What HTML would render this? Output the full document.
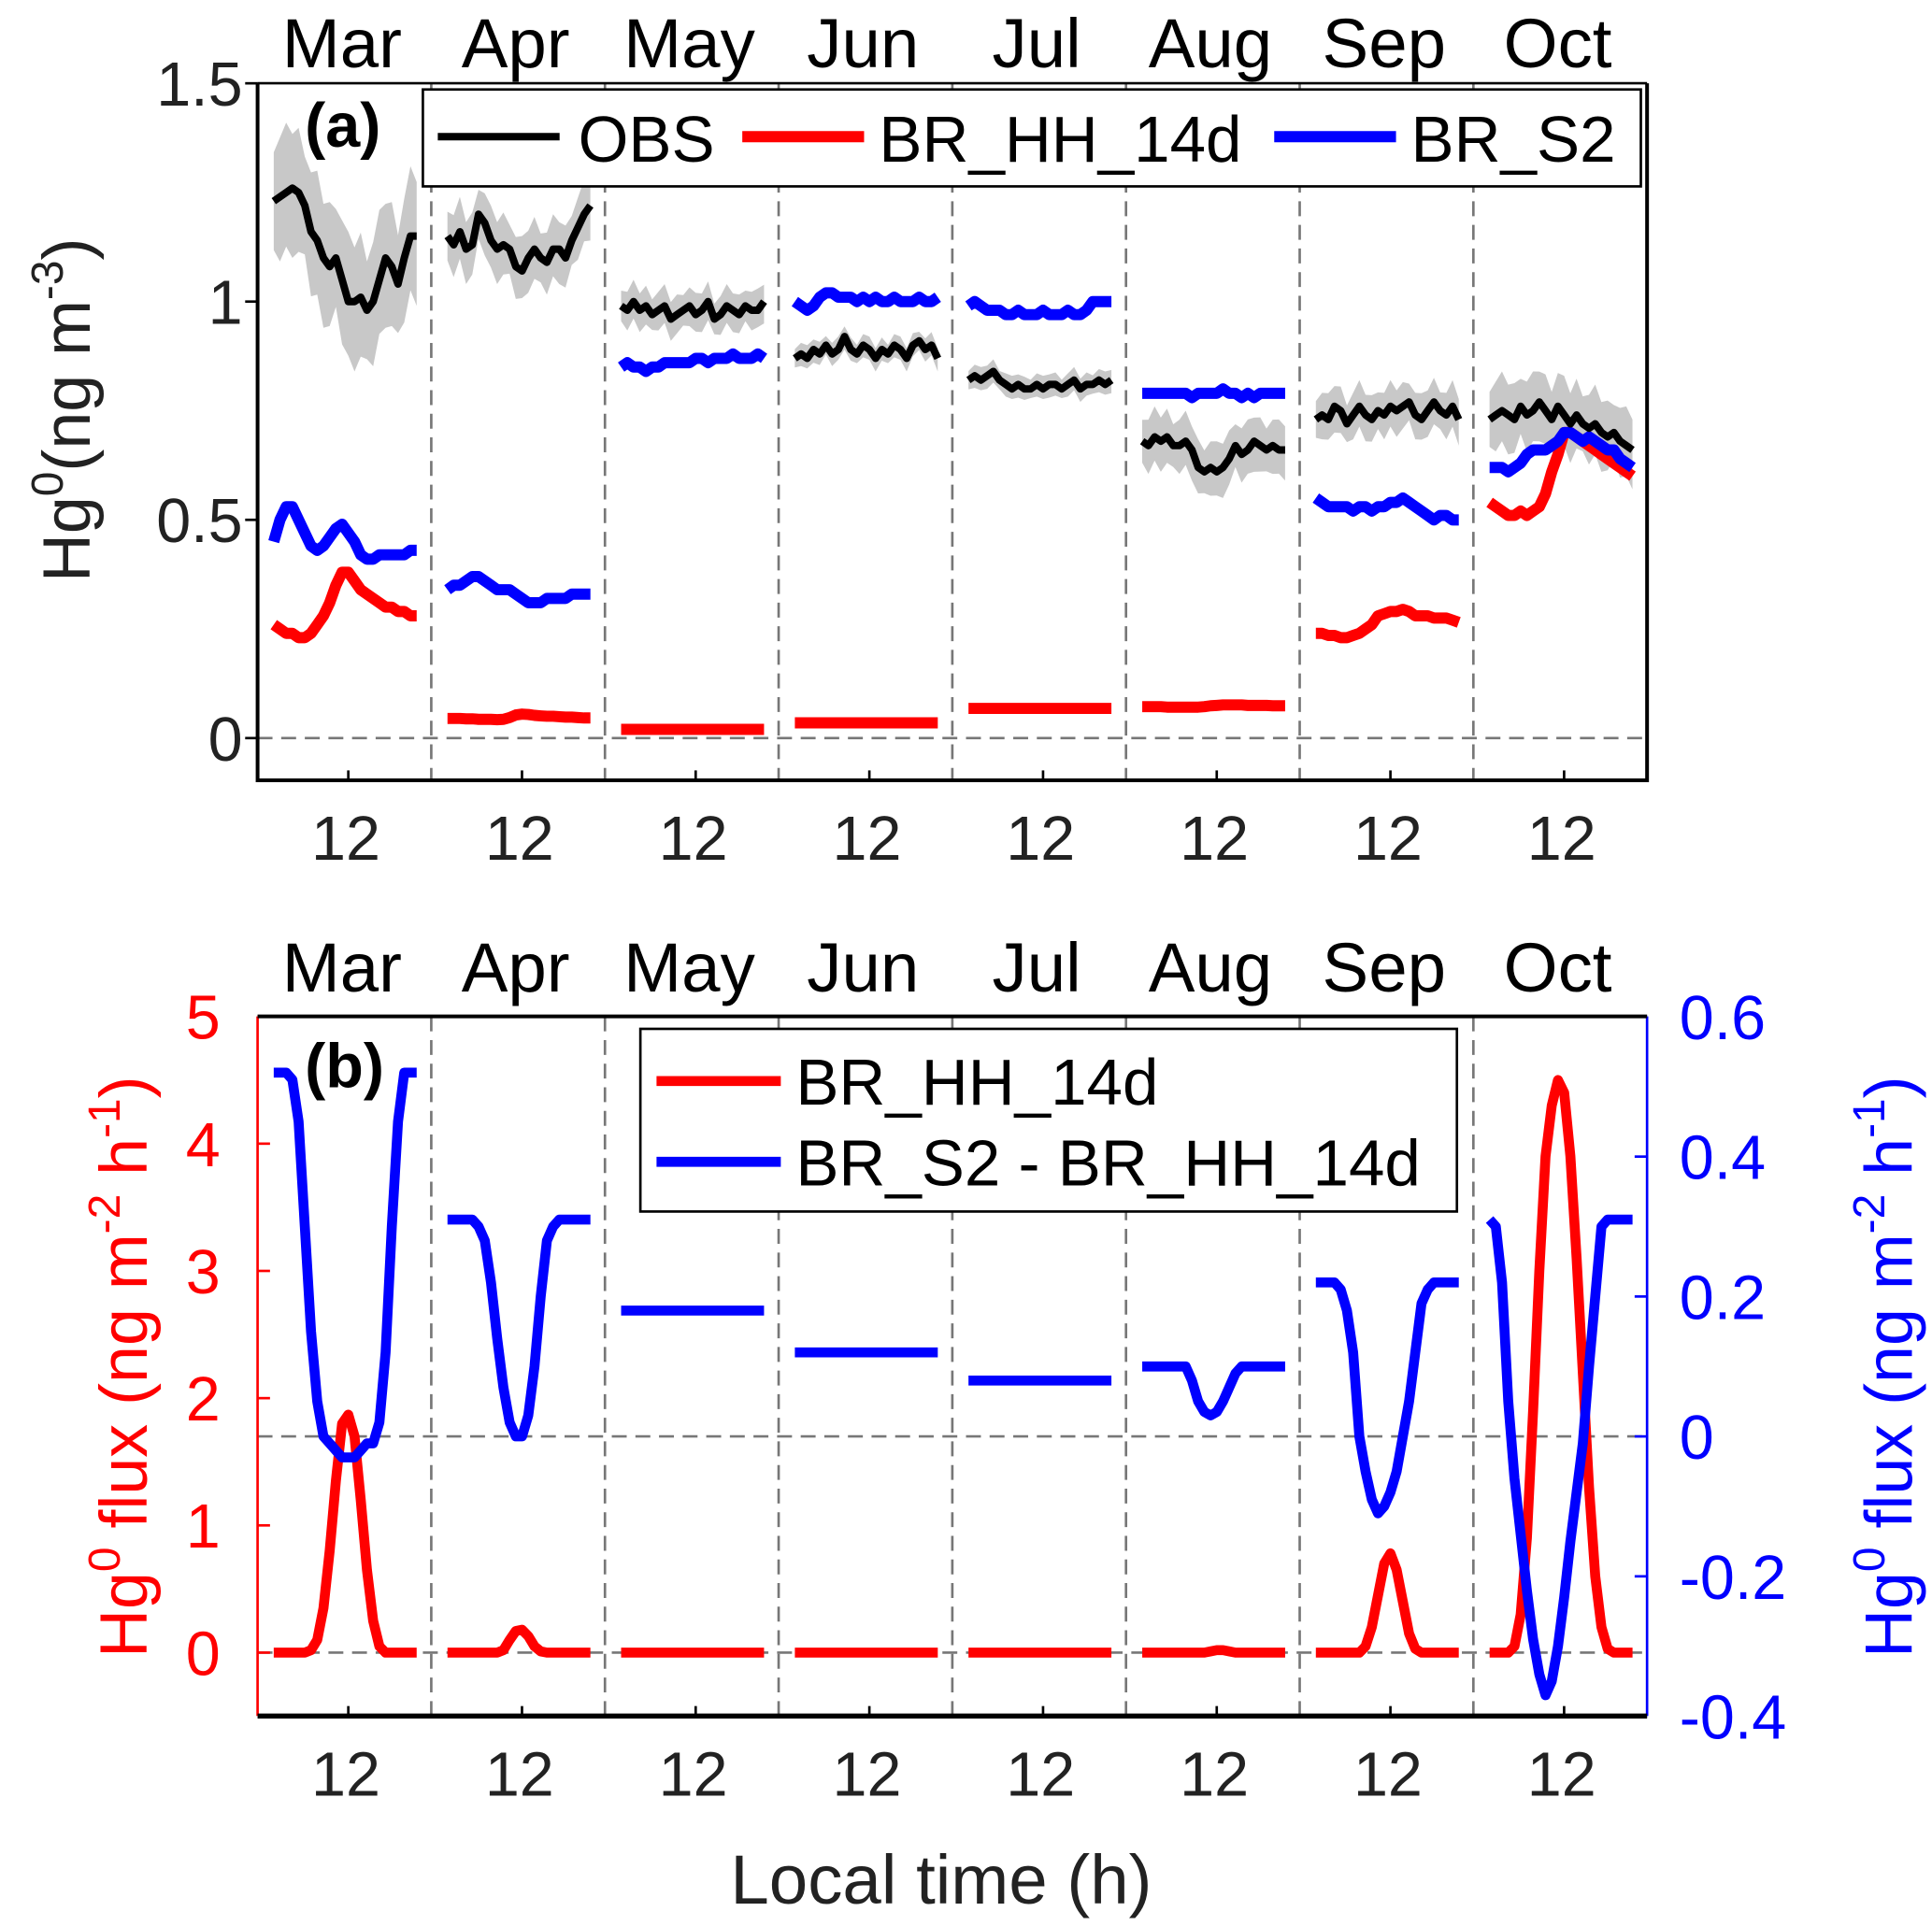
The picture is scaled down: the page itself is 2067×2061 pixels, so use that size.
<!DOCTYPE html>
<html><head><meta charset="utf-8"><style>
html,body{margin:0;padding:0;background:#fff}
svg{display:block;font-family:"Liberation Sans",Arial,sans-serif}
</style></head><body>
<svg id="chart" width="2067" height="2061" viewBox="0 0 1554 1550" xmlns="http://www.w3.org/2000/svg">
<g id="a"></g>
<g id="b"></g>
</svg>
<script>
const months=["Mar","Apr","May","Jun","Jul","Aug","Sep","Oct"];
const aTicks=[0,0.5,1,1.5];
const bLeftTicks=[0,1,2,3,4,5];
const bRightTicks=[-0.4,-0.2,0,0.2,0.4,0.6];
const obs=[
[1.23,1.24,1.25,1.26,1.25,1.22,1.16,1.14,1.1,1.08,1.1,1.05,1.0,1.0,1.01,0.98,1.0,1.05,1.1,1.08,1.04,1.1,1.15,1.15],
[1.15,1.13,1.16,1.12,1.13,1.2,1.18,1.14,1.12,1.13,1.12,1.08,1.07,1.1,1.12,1.1,1.09,1.12,1.12,1.1,1.14,1.17,1.2,1.22],
[0.99,0.98,1.0,0.98,0.99,0.97,0.98,0.99,0.96,0.97,0.98,0.99,0.97,0.98,1.0,0.96,0.97,0.99,0.98,0.97,0.99,0.98,0.98,1.0],
[0.87,0.88,0.87,0.89,0.88,0.9,0.88,0.89,0.92,0.89,0.88,0.9,0.89,0.87,0.89,0.88,0.9,0.89,0.87,0.9,0.91,0.89,0.9,0.87],
[0.82,0.83,0.82,0.83,0.84,0.82,0.81,0.8,0.81,0.8,0.8,0.81,0.8,0.81,0.81,0.8,0.81,0.82,0.8,0.81,0.81,0.82,0.81,0.82],
[0.68,0.67,0.69,0.68,0.69,0.67,0.67,0.68,0.66,0.62,0.61,0.62,0.61,0.62,0.64,0.67,0.65,0.66,0.68,0.67,0.66,0.67,0.66,0.66],
[0.73,0.74,0.73,0.76,0.75,0.72,0.74,0.76,0.74,0.73,0.75,0.74,0.76,0.75,0.76,0.77,0.74,0.73,0.75,0.77,0.75,0.74,0.76,0.73],
[0.73,0.74,0.75,0.74,0.73,0.76,0.74,0.75,0.77,0.75,0.73,0.76,0.74,0.72,0.74,0.72,0.71,0.72,0.7,0.69,0.7,0.68,0.67,0.66]];
const obsSpread=[0.16,0.08,0.05,0.03,0.03,0.07,0.06,0.09];
const s2=[
[0.45,0.5,0.53,0.53,0.5,0.47,0.44,0.43,0.44,0.46,0.48,0.49,0.47,0.45,0.42,0.41,0.41,0.42,0.42,0.42,0.42,0.42,0.43,0.43],
[0.34,0.35,0.35,0.36,0.37,0.37,0.36,0.35,0.34,0.34,0.34,0.33,0.32,0.31,0.31,0.31,0.32,0.32,0.32,0.32,0.33,0.33,0.33,0.33],
[0.85,0.86,0.85,0.85,0.84,0.85,0.85,0.86,0.86,0.86,0.86,0.86,0.87,0.87,0.86,0.87,0.87,0.87,0.88,0.87,0.87,0.87,0.88,0.87],
[1.0,0.99,0.98,0.99,1.01,1.02,1.02,1.01,1.01,1.01,1.0,1.01,1.0,1.01,1.0,1.0,1.01,1.0,1.0,1.0,1.01,1.0,1.0,1.01],
[0.99,1.0,0.99,0.98,0.98,0.98,0.97,0.97,0.98,0.97,0.97,0.97,0.98,0.97,0.97,0.97,0.98,0.97,0.97,0.98,1.0,1.0,1.0,1.0],
[0.79,0.79,0.79,0.79,0.79,0.79,0.79,0.79,0.78,0.79,0.79,0.79,0.79,0.8,0.79,0.79,0.78,0.79,0.78,0.79,0.79,0.79,0.79,0.79],
[0.55,0.54,0.53,0.53,0.53,0.53,0.52,0.53,0.53,0.52,0.53,0.53,0.54,0.54,0.55,0.54,0.53,0.52,0.51,0.5,0.51,0.51,0.5,0.5],
[0.62,0.62,0.62,0.61,0.62,0.63,0.65,0.66,0.66,0.66,0.67,0.68,0.7,0.7,0.69,0.68,0.69,0.68,0.67,0.66,0.66,0.64,0.63,0.62]];
const hh=[
[0.26,0.25,0.24,0.24,0.23,0.23,0.24,0.26,0.28,0.31,0.35,0.38,0.38,0.36,0.34,0.33,0.32,0.31,0.3,0.3,0.29,0.29,0.28,0.28],
[0.045,0.045,0.045,0.044,0.044,0.043,0.043,0.043,0.042,0.043,0.047,0.053,0.055,0.054,0.052,0.051,0.05,0.05,0.049,0.048,0.048,0.047,0.046,0.046],
[0.02,0.02,0.02,0.02,0.02,0.02,0.02,0.02,0.02,0.02,0.02,0.02,0.02,0.02,0.02,0.02,0.02,0.02,0.02,0.02,0.02,0.02,0.02,0.02],
[0.035,0.035,0.035,0.035,0.035,0.035,0.035,0.035,0.035,0.035,0.035,0.035,0.035,0.035,0.035,0.035,0.035,0.035,0.035,0.035,0.035,0.035,0.035,0.035],
[0.068,0.068,0.068,0.068,0.068,0.068,0.068,0.068,0.068,0.068,0.068,0.068,0.068,0.068,0.068,0.068,0.068,0.068,0.068,0.068,0.068,0.068,0.068,0.068],
[0.072,0.072,0.072,0.072,0.071,0.071,0.071,0.071,0.071,0.071,0.072,0.074,0.075,0.076,0.076,0.076,0.076,0.075,0.075,0.075,0.075,0.074,0.074,0.074],
[0.24,0.24,0.235,0.235,0.23,0.23,0.235,0.24,0.25,0.26,0.28,0.285,0.29,0.29,0.295,0.29,0.28,0.28,0.28,0.275,0.275,0.275,0.27,0.265],
[0.54,0.53,0.52,0.51,0.51,0.52,0.51,0.52,0.53,0.56,0.61,0.65,0.7,0.7,0.69,0.68,0.67,0.66,0.65,0.64,0.63,0.62,0.61,0.6]];
const fluxHH=[
[0,0,0,0,0,0,0.02,0.1,0.35,0.8,1.35,1.8,1.87,1.7,1.2,0.65,0.25,0.05,0,0,0,0,0,0],
[0,0,0,0,0,0,0,0,0,0.02,0.1,0.17,0.18,0.13,0.05,0.01,0,0,0,0,0,0,0,0],
[0,0,0,0,0,0,0,0,0,0,0,0,0,0,0,0,0,0,0,0,0,0,0,0],
[0,0,0,0,0,0,0,0,0,0,0,0,0,0,0,0,0,0,0,0,0,0,0,0],
[0,0,0,0,0,0,0,0,0,0,0,0,0,0,0,0,0,0,0,0,0,0,0,0],
[0,0,0,0,0,0,0,0,0,0,0,0.01,0.02,0.02,0.01,0,0,0,0,0,0,0,0,0],
[0,0,0,0,0,0,0,0,0.05,0.2,0.45,0.7,0.78,0.65,0.4,0.15,0.03,0,0,0,0,0,0,0],
[0,0,0,0,0.05,0.3,0.9,1.9,3.0,3.9,4.3,4.5,4.4,3.9,3.1,2.2,1.3,0.6,0.2,0.03,0,0,0,0]];
const fluxDiff=[
[0.52,0.52,0.52,0.51,0.45,0.3,0.15,0.05,0.0,-0.01,-0.02,-0.03,-0.03,-0.03,-0.02,-0.01,-0.01,0.02,0.12,0.3,0.45,0.52,0.52,0.52],
[0.31,0.31,0.31,0.31,0.31,0.3,0.28,0.22,0.14,0.07,0.02,0.0,0.0,0.03,0.1,0.2,0.28,0.3,0.31,0.31,0.31,0.31,0.31,0.31],
[0.18,0.18,0.18,0.18,0.18,0.18,0.18,0.18,0.18,0.18,0.18,0.18,0.18,0.18,0.18,0.18,0.18,0.18,0.18,0.18,0.18,0.18,0.18,0.18],
[0.12,0.12,0.12,0.12,0.12,0.12,0.12,0.12,0.12,0.12,0.12,0.12,0.12,0.12,0.12,0.12,0.12,0.12,0.12,0.12,0.12,0.12,0.12,0.12],
[0.08,0.08,0.08,0.08,0.08,0.08,0.08,0.08,0.08,0.08,0.08,0.08,0.08,0.08,0.08,0.08,0.08,0.08,0.08,0.08,0.08,0.08,0.08,0.08],
[0.1,0.1,0.1,0.1,0.1,0.1,0.1,0.1,0.08,0.05,0.035,0.03,0.035,0.05,0.07,0.09,0.1,0.1,0.1,0.1,0.1,0.1,0.1,0.1],
[0.22,0.22,0.22,0.22,0.21,0.18,0.12,0.0,-0.05,-0.09,-0.11,-0.1,-0.08,-0.05,0.0,0.05,0.12,0.19,0.21,0.22,0.22,0.22,0.22,0.22],
[0.31,0.3,0.22,0.05,-0.06,-0.14,-0.22,-0.29,-0.34,-0.37,-0.35,-0.3,-0.23,-0.15,-0.08,-0.01,0.1,0.2,0.3,0.31,0.31,0.31,0.31,0.31]];

const NS="http://www.w3.org/2000/svg";
function mk(parent,tag,attrs,text){const e=document.createElementNS(NS,tag);for(const k in attrs)e.setAttribute(k,attrs[k]);if(text!==undefined)e.textContent=text;parent.appendChild(e);return e;}
const X0=207,X1=1325,SW=(X1-X0)/8;
function hx(m,h){return X0+m*SW+13+h*5;}
const yA=v=>594-v*351.3;
const yBL=v=>1330-v*102.4;
const yBR=v=>1156-v*563;
function path(m,arr,yf){return arr.map((v,i)=>(i?"L":"M")+hx(m,i).toFixed(1)+","+yf(v).toFixed(1)).join("");}

function frame(g,top,bot,grid0y,labOff){
  for(let i=1;i<8;i++){const l=mk(g,"line",{x1:X0+i*SW,x2:X0+i*SW,y1:top,y2:bot,stroke:"#777","stroke-width":2,"stroke-dasharray":"12,7"});
  
  }
  const z=mk(g,"line",{x1:X0,x2:X1,y1:grid0y,y2:grid0y,stroke:"#777","stroke-width":2,"stroke-dasharray":"12,7"});
  
  
  months.forEach((mo,m)=>{
    const t=mk(g,"text",{x:X0+m*SW+SW/2-2,y:top-labOff,"font-size":56,"text-anchor":"middle"},mo);
    
    
    const t2=mk(g,"text",{x:hx(m,12)-2,y:bot+64,"font-size":50,"text-anchor":"middle",fill:"#222"},"12");
    
    
    mk(g,"line",{x1:hx(m,12),x2:hx(m,12),y1:bot,y2:bot-8,stroke:"#000","stroke-width":2});
  });
}

// Panel a
const A=document.getElementById("a");
frame(A,67,628,yA(0),13);
obs.forEach((arr,m)=>{
  const s=obsSpread[m];
  const up=arr.map((v,i)=>hx(m,i)+","+yA(v+s*(0.7+0.3*((i*7)%5)/4)));
  const dn=arr.map((v,i)=>hx(m,i)+","+yA(v-s*(0.7+0.3*((i*3)%5)/4))).reverse();
  const p=mk(A,"polygon",{points:up.concat(dn).join(" "),fill:"#c8c8c8"});
  
  
});
hh.forEach((arr,m)=>{const p=mk(A,"path",{d:path(m,arr,yA),fill:"none",stroke:"#f00","stroke-width":9,"stroke-linejoin":"round"});

});
s2.forEach((arr,m)=>{const p=mk(A,"path",{d:path(m,arr,yA),fill:"none",stroke:"#00f","stroke-width":9,"stroke-linejoin":"round"});

});
obs.forEach((arr,m)=>{const p=mk(A,"path",{d:path(m,arr,yA),fill:"none",stroke:"#000","stroke-width":6,"stroke-linejoin":"round"});

});
aTicks.forEach(v=>{mk(A,"line",{x1:X0,x2:X0-10,y1:yA(v),y2:yA(v),stroke:"#000","stroke-width":2});
const t=mk(A,"text",{x:X0-12,y:yA(v)+18,"font-size":50,"text-anchor":"end",fill:"#222"},String(v));

});
mk(A,"polyline",{points:`${X0},67 ${X0},628 ${X1},628 ${X1},67`,fill:"none",stroke:"#000","stroke-width":3});
mk(A,"line",{x1:X0,x2:X1,y1:67,y2:67,stroke:"#000","stroke-width":2});
</script>
<script>
(function(){
const A=document.getElementById("a");
const yt=mk(A,"text",{transform:"translate(72,330) rotate(-90)","font-size":54,"text-anchor":"middle",fill:"#222"});


yt.innerHTML='Hg<tspan dy="-22" font-size="36">0</tspan><tspan dy="22">(ng m</tspan><tspan dy="-22" font-size="36">-3</tspan><tspan dy="22">)</tspan>';
const pa=mk(A,"text",{x:245,y:118,"font-size":50,"font-weight":"bold"},"(a)");


const lg=mk(A,"g",{});


mk(lg,"rect",{x:340,y:72,width:980,height:78,fill:"#fff",stroke:"#000","stroke-width":2});
[["OBS","#000",6,352,465],["BR_HH_14d","#f00",9,597,707],["BR_S2","#00f",9,1025,1135]].forEach(([n,c,w,x,tx])=>{
 const e=mk(lg,"g",{});
 
 
 mk(e,"line",{x1:x,x2:x+98,y1:110,y2:110,stroke:c,"stroke-width":w});
 mk(e,"text",{x:tx,y:130,"font-size":52},n);
});

// Panel b
const B=document.getElementById("b");
frame(B,818,1381,yBL(0),20);
mk(B,"line",{x1:X0,x2:X1,y1:yBR(0),y2:yBR(0),stroke:"#777","stroke-width":2,"stroke-dasharray":"12,7"});
fluxHH.forEach((arr,m)=>{const p=mk(B,"path",{d:path(m,arr,yBL),fill:"none",stroke:"#f00","stroke-width":8,"stroke-linejoin":"round"});

});
fluxDiff.forEach((arr,m)=>{const p=mk(B,"path",{d:path(m,arr,yBR),fill:"none",stroke:"#00f","stroke-width":8,"stroke-linejoin":"round"});

});
bLeftTicks.forEach(v=>{mk(B,"line",{x1:X0,x2:X0+10,y1:yBL(v),y2:yBL(v),stroke:"#f00","stroke-width":2});
const t=mk(B,"text",{x:X0-30,y:yBL(v)+18,"font-size":50,"text-anchor":"end",fill:"#f00"},String(v));

});
bRightTicks.forEach(v=>{mk(B,"line",{x1:X1,x2:X1-10,y1:yBR(v),y2:yBR(v),stroke:"#00f","stroke-width":2});
const t=mk(B,"text",{x:X1+26,y:yBR(v)+18,"font-size":50,fill:"#00f"},String(v));

});
mk(B,"line",{x1:X0,x2:X0,y1:818,y2:1381,stroke:"#f00","stroke-width":2});
mk(B,"line",{x1:X1,x2:X1,y1:818,y2:1381,stroke:"#00f","stroke-width":2});
mk(B,"line",{x1:X0,x2:X1,y1:818,y2:818,stroke:"#000","stroke-width":3});
mk(B,"line",{x1:X0,x2:X1,y1:1381,y2:1381,stroke:"#000","stroke-width":4});
const pb=mk(B,"text",{x:245,y:875,"font-size":50,"font-weight":"bold"},"(b)");


const lt=mk(B,"text",{transform:"translate(118,1100) rotate(-90)","font-size":54,"text-anchor":"middle",fill:"#f00"});


lt.innerHTML='Hg<tspan dy="-22" font-size="36">0</tspan><tspan dy="22"> flux (ng m</tspan><tspan dy="-22" font-size="36">-2</tspan><tspan dy="22"> h</tspan><tspan dy="-22" font-size="36">-1</tspan><tspan dy="22">)</tspan>';
const rt=mk(B,"text",{transform:"translate(1538,1100) rotate(-90)","font-size":54,"text-anchor":"middle",fill:"#00f"});


rt.innerHTML='Hg<tspan dy="-22" font-size="36">0</tspan><tspan dy="22"> flux (ng m</tspan><tspan dy="-22" font-size="36">-2</tspan><tspan dy="22"> h</tspan><tspan dy="-22" font-size="36">-1</tspan><tspan dy="22">)</tspan>';
const lb=mk(B,"g",{});


mk(lb,"rect",{x:515,y:828,width:657,height:147,fill:"#fff",stroke:"#000","stroke-width":2});
[["BR_HH_14d","#f00",870],["BR_S2 - BR_HH_14d","#00f",935]].forEach(([n,c,y])=>{
 const e=mk(lb,"g",{});
 
 
 mk(e,"line",{x1:528,x2:628,y1:y,y2:y,stroke:c,"stroke-width":8});
 mk(e,"text",{x:640,y:y+19,"font-size":52},n);
});
const xt=mk(B,"text",{x:757,y:1532,"font-size":56,"text-anchor":"middle",fill:"#222"},"Local time (h)");


})();
</script>
</body></html>
